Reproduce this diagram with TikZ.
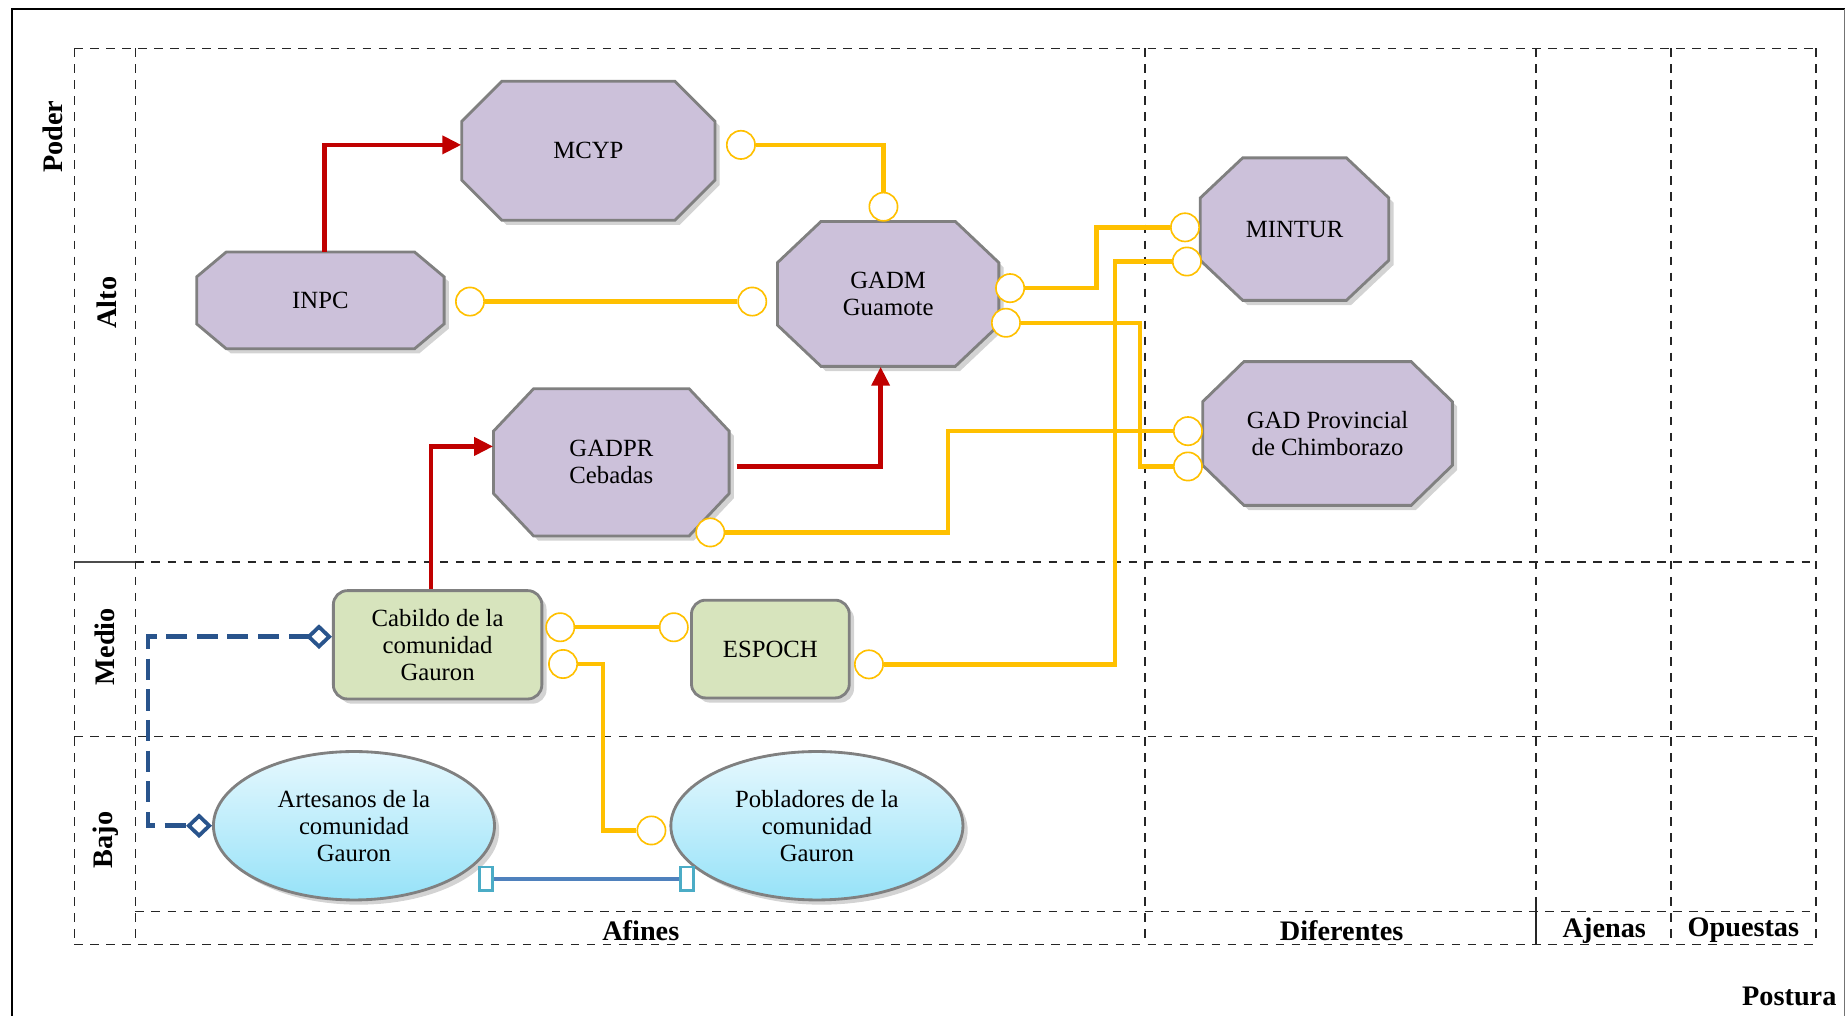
\documentclass[tikz,border=0pt]{standalone}
\usepackage{fontspec}
\setmainfont{Liberation Serif}
\usetikzlibrary{arrows.meta,shadows,shapes.geometric,calc}

\definecolor{lav}{RGB}{204,193,218}
\definecolor{octgray}{RGB}{128,128,128}
\definecolor{grn}{RGB}{215,228,189}
\definecolor{orng}{RGB}{255,192,0}
\definecolor{redc}{RGB}{192,0,0}
\definecolor{dblue}{RGB}{41,84,140}
\definecolor{bline}{RGB}{79,129,189}
\definecolor{lblue}{RGB}{75,172,198}
\definecolor{elltop}{RGB}{230,248,254}
\definecolor{ellbot}{RGB}{150,226,248}

\newcommand{\ndfont}{\rmfamily\fontsize{10.5}{11.5}\selectfont}

\tikzset{
  gridline/.style={dash pattern=on 3.6pt off 3.2pt, line width=0.6pt, black!85},
  octshape/.style={fill=lav, draw=octgray, line width=1.2pt, line join=miter,
     drop shadow={shadow xshift=2pt, shadow yshift=-2pt, opacity=0.35}},
  octtext/.style={draw=none, fill=none, align=center, inner sep=0pt, font=\ndfont},
  greenbox/.style={rectangle, rounded corners=6pt, fill=grn, draw=octgray, line width=1.2pt,
     align=center, font=\ndfont, inner sep=1pt,
     drop shadow={shadow xshift=2pt, shadow yshift=-2pt, opacity=0.35}},
  ellbox/.style={ellipse, draw=octgray, line width=1.2pt, top color=elltop, bottom color=ellbot,
     align=center, font=\ndfont, inner sep=0pt,
     drop shadow={shadow xshift=2pt, shadow yshift=-2pt, opacity=0.35}},
  oc/.style={circle, draw=orng, line width=0.7pt, fill=white, minimum size=12pt, inner sep=0pt},
  oline/.style={draw=orng, line width=1.9pt},
  rarrow/.style={draw=redc, line width=1.9pt, -{Triangle[length=8pt,width=7.5pt]}},
  bdash/.style={draw=dblue, line width=2pt, dash pattern=on 9pt off 4pt,
     {Diamond[open,length=11pt,width=10.5pt,line width=1.6pt]}-{Diamond[open,length=11pt,width=10.5pt,line width=1.6pt]}},
  sqbox/.style={rectangle, draw=lblue, fill=white, line width=1.1pt, minimum width=5.5pt, minimum height=10pt, inner sep=0pt},
  blueline/.style={draw=bline, line width=1.6pt},
  lbl/.style={font=\rmfamily\bfseries\fontsize{12}{14}\selectfont, inner sep=0pt},
}

\newcommand{\octnode}[8]{%
  \draw[octshape] ({#2-#4/2+#6},{#3-#5/2}) -- ({#2+#4/2-#6},{#3-#5/2}) -- ({#2+#4/2},{#3-#5/2+#7})
     -- ({#2+#4/2},{#3+#5/2-#7}) -- ({#2+#4/2-#6},{#3+#5/2}) -- ({#2-#4/2+#6},{#3+#5/2})
     -- ({#2-#4/2},{#3+#5/2-#7}) -- ({#2-#4/2},{#3-#5/2+#7}) -- cycle;
  \node[octtext, minimum width=#4*0.5pt, minimum height=#5*0.5pt] (#1) at (#2,#3) {#8};
}

\begin{document}
\begin{tikzpicture}[x=0.5pt,y=-0.5pt]
\useasboundingbox (0,0) rectangle (1568,862);

% outer frame
\draw[line width=1pt, black] (10,875) -- (10,7.5) -- (1566,7.5);
\draw[line width=0.7pt, black!55] (1566,7.5) -- (1566,875);

% grid
\draw[gridline] (63,41) -- (1541.5,41);
\draw[gridline] (115,477) -- (1541.5,477);
\draw[line width=0.8pt, black!70] (63,477) -- (115,477);
\draw[gridline] (63,625) -- (1541.5,625);
\draw[gridline] (115,774) -- (1541.5,774);
\draw[gridline] (63,802) -- (1541.5,802);
\draw[gridline] (63,41) -- (63,802);
\draw[gridline] (115,41) -- (115,802);
\draw[gridline] (972,41) -- (972,802);
\draw[gridline] (1304,41) -- (1304,767);
\draw[line width=0.7pt, black!85] (1304,767) -- (1304,802);
\draw[gridline] (1418.5,41) -- (1418.5,802);
\draw[gridline] (1541.5,41) -- (1541.5,802);

% axis labels
\node[lbl, rotate=90] (poder) at (44.7,116) {Poder};
\node[lbl, rotate=90] (alto) at (91,257) {Alto};
\node[lbl, rotate=90] (medio) at (89.4,549) {Medio};
\node[lbl, rotate=90] (bajo) at (89.4,713) {Bajo};
\node[lbl] (afines) at (544,790) {Afines};
\node[lbl] (dif) at (1139,790) {Diferentes};
\node[lbl] (ajenas) at (1362,790) {Ajenas};
\node[lbl] (opuestas) at (1480,790) {Opuestas};
\node[lbl] (postura) at (1519,846) {Postura};

% octagon actors
\octnode{mcyp}{499.5}{128}{215}{118}{34}{34}{MCYP}
\octnode{inpc}{272}{255}{210}{82}{25}{21}{INPC}
\octnode{gadm}{754}{249.5}{188}{123}{37}{35}{GADM\\Guamote}
\octnode{gadpr}{519}{392.5}{200}{125}{34}{36}{GADPR\\Cebadas}
\octnode{mintur}{1099}{194.5}{160}{121}{36}{34}{MINTUR}
\octnode{gadp}{1127}{368}{212}{122}{35}{34}{GAD Provincial\\de Chimborazo}

% medium actors
\node[greenbox, minimum width=88.5pt, minimum height=46pt] (cab) at (371.5,547.4) {Cabildo de la\\comunidad\\Gauron};
\node[greenbox, minimum width=67pt, minimum height=41.5pt] (espoch) at (654,551) {ESPOCH};

% low actors
\node[ellbox, minimum width=119.3pt, minimum height=63pt] (art) at (300.5,701) {Artesanos de la\\comunidad\\Gauron};
\node[ellbox, minimum width=124pt, minimum height=63pt] (pob) at (693.5,701) {Pobladores de la\\comunidad\\Gauron};

% red arrows
\draw[rarrow] ([xshift=1.75pt]inpc.north) |- ([yshift=2.5pt]mcyp.west);
\draw[rarrow] ([xshift=3pt,yshift=-1.75pt]gadpr.east) -| ([xshift=-3.2pt]gadm.south);
\draw[rarrow] ([xshift=-2.9pt]cab.north) |- ([yshift=6.75pt]gadpr.west);

% orange circles
\node[oc] (oM) at (629,123) {};
\node[oc] (oG1) at (750,175.5) {};
\node[oc] (oI) at (399,256) {};
\node[oc] (oG2) at (638.6,256) {};
\node[oc] (oG3) at (857.5,244.6) {};
\node[oc] (oG4) at (854,274) {};
\node[oc] (oT1) at (1006,193) {};
\node[oc] (oT2) at (1007.6,222) {};
\node[oc] (oP1) at (1008.5,366) {};
\node[oc] (oP2) at (1008.5,396) {};
\node[oc] (oR) at (603,452) {};
\node[oc] (oC1) at (475.6,532.5) {};
\node[oc] (oC2) at (478,563.7) {};
\node[oc] (oE1) at (572,532.5) {};
\node[oc] (oE2) at (737.7,564) {};
\node[oc] (oB) at (553,705) {};

% orange connectors
\draw[oline] (oM) -| (oG1);
\draw[oline] (oI) -- (oG2);
\draw[oline] (oG3) -- (931,244.6) -- (931,193) -- (oT1);
\draw[oline] (oG4) -- (967.6,274) -- (967.6,396) -- (oP2);
\draw[oline] (oR) -- (805,452) -- (805,366) -- (oP1);
\draw[oline] (oC1) -- (oE1);
\draw[oline] (oC2) -- (512,563.7) -- (512,705) -- (oB);
\draw[oline] (oE2) -- (946.6,564) -- (946.6,222) -- (oT2);

% blue dashed link
\draw[bdash] ([yshift=3.45pt]cab.west) -- (125.6,540.5) -- (125.6,701) -- (art.west);

% blue solid link
\node[sqbox] (s1) at (412.5,746) {};
\node[sqbox] (s2) at (583,746) {};
\draw[blueline] (s1) -- (s2);

\end{tikzpicture}
\end{document}
